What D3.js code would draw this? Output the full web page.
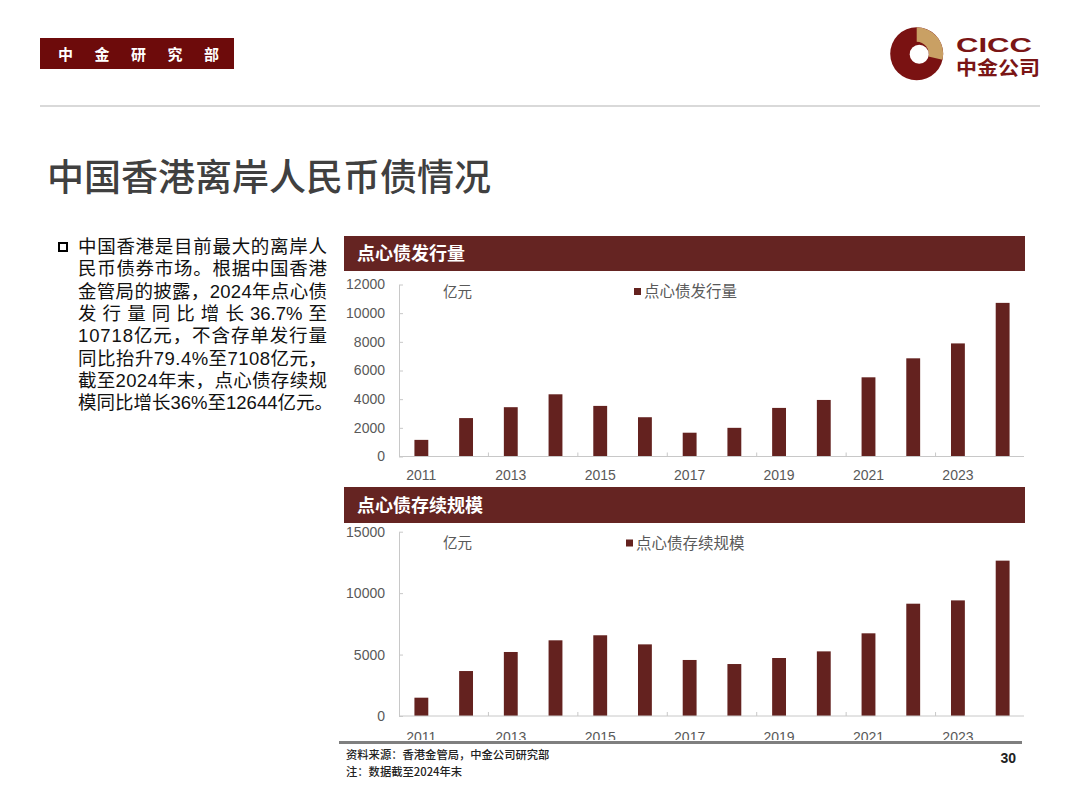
<!DOCTYPE html>
<html>
<head>
<meta charset="utf-8">
<script src="https://cdn.jsdelivr.net/npm/d3@7/dist/d3.min.js"></script>
<style>
  html, body { margin: 0; padding: 0; background: #fff; }
  svg { display: block; }
</style>
</head>
<body>
<svg id="chart" width="1080" height="810"></svg>
<script>
// ---------- data ----------
const categories = ["2011","2012","2013","2014","2015","2016","2017","2018","2019","2020","2021","2022","2023","2024"];
const issuance = [1160, 2680, 3440, 4340, 3530, 2740, 1660, 2000, 3390, 3945, 5525, 6850, 7890, 10718];
const outstanding = [1490, 3660, 5210, 6160, 6570, 5830, 4560, 4230, 4720, 5260, 6730, 9140, 9410, 12644];
const yTicks1 = [0, 2000, 4000, 6000, 8000, 10000, 12000];
const yTicks2 = [0, 5000, 10000, 15000];
const xTickLabels = ["2011","2013","2015","2017","2019","2021","2023"];
const bulletLines = [
  "中国香港是目前最大的离岸人",
  "民币债券市场。根据中国香港",
  "金管局的披露，2024年点心债",
  "发 行 量 同 比 增 长 36.7% 至",
  "10718亿元，不含存单发行量",
  "同比抬升79.4%至7108亿元，",
  "截至2024年末，点心债存续规",
  "模同比增长36%至12644亿元。"
];
const headerText = "中金研究部";
const pageTitle = "中国香港离岸人民币债情况";
const chart1Title = "点心债发行量";
const chart2Title = "点心债存续规模";
const unitLabel = "亿元";
const sourceText = "资料来源：香港金管局，中金公司研究部";
const noteText = "注：数据截至2024年末";
const pageNumber = "30";

// ---------- styles ----------
const BAR = "#64221f";
const HEAD = "#652422";
const AXIS = "#c8c8c8";
const LABEL = "#595959";
const NUMFONT = "'Liberation Sans', Arial, 'Noto Sans CJK SC', sans-serif";
const CJK = "'Noto Sans CJK SC', 'Liberation Sans', sans-serif";

const svg = d3.select("#chart");

// ---------- page header ----------
svg.append("rect").attr("x", 40).attr("y", 38).attr("width", 194).attr("height", 31).attr("fill", "#6d0b0b");
svg.append("text").attr("x", 58).attr("y", 60).attr("fill", "#fff")
  .attr("font-family", CJK).attr("font-weight", "bold").attr("font-size", 15)
  .attr("letter-spacing", 21.5).text(headerText);

svg.append("line").attr("x1", 40).attr("x2", 1040).attr("y1", 106).attr("y2", 106)
  .attr("stroke", "#d9d9d9").attr("stroke-width", 2);

svg.append("text").attr("x", 47).attr("y", 191).attr("fill", "#404040")
  .attr("font-family", CJK).attr("font-size", 37).attr("font-weight", 500).text(pageTitle);

// logo
const logo = svg.append("g").attr("transform", "translate(916.7,53.8)");
logo.append("circle").attr("r", 26.5).attr("fill", "#7a1212");
logo.append("path").attr("fill", "#c9a064")
  .attr("d", d3.arc()({innerRadius: 12, outerRadius: 26.5, startAngle: 0, endAngle: 1.8}));
logo.append("circle").attr("cx", 2.5).attr("cy", 0.5).attr("r", 9.5).attr("fill", "#fff");
svg.append("text").attr("x", 956).attr("y", 51.5).attr("fill", "#7a1515")
  .attr("font-family", NUMFONT).attr("font-weight", "bold").attr("font-size", 21)
  .attr("textLength", 76).attr("lengthAdjust", "spacingAndGlyphs").text("CICC");
svg.append("text").attr("x", 956).attr("y", 74.5).attr("fill", "#7a1515")
  .attr("font-family", NUMFONT).attr("font-weight", "bold").attr("font-size", 19.5)
  .attr("textLength", 84).attr("lengthAdjust", "spacingAndGlyphs").text("中金公司");

// ---------- bullet text ----------
svg.append("rect").attr("x", 59).attr("y", 243).attr("width", 8).attr("height", 8)
  .attr("fill", "none").attr("stroke", "#000").attr("stroke-width", 2);
const bt = svg.append("g").attr("font-family", NUMFONT).attr("font-size", 18.5).attr("fill", "#111");
const LINE_W = 249;
bulletLines.forEach((line, i) => {
  const t = bt.append("text").attr("x", 78).attr("y", 253 + i * 22.3).text(line);
  if (i === bulletLines.length - 1) return;
  const gaps = (line.match(/ /g) || []).length;
  if (gaps > 0) {
    const w = t.node().getComputedTextLength();
    t.attr("word-spacing", (LINE_W - w) / gaps);
  } else {
    t.attr("textLength", LINE_W).attr("lengthAdjust", "spacing");
  }
});

// ---------- chart builder ----------
const x = d3.scaleBand().domain(categories).range([399, 1025]).paddingInner(0.69).paddingOuter(0.345);

function drawChart(cfg) {
  const g = svg.append("g");
  // header bar
  g.append("rect").attr("x", 344).attr("y", cfg.headTop).attr("width", 681).attr("height", cfg.headH).attr("fill", HEAD);
  g.append("text").attr("x", 357).attr("y", cfg.headTop + cfg.headH / 2 + 6.5).attr("fill", "#fff")
    .attr("font-family", CJK).attr("font-weight", "bold").attr("font-size", 18).text(cfg.title);

  const y = d3.scaleLinear().domain([0, cfg.max]).range([cfg.y0, cfg.yTop]);

  // y axis
  const ya = g.append("g").attr("transform", "translate(399,0)")
    .call(d3.axisLeft(y).tickValues(cfg.ticks).tickSizeInner(-4).tickSizeOuter(0).tickPadding(14).tickFormat(d3.format("d")));
  ya.select(".domain").attr("stroke", AXIS);
  ya.selectAll(".tick line").attr("stroke", AXIS);
  ya.selectAll(".tick text").attr("fill", LABEL).attr("font-family", NUMFONT).attr("font-size", 14);

  // bars
  g.append("g").selectAll("rect").data(cfg.values).join("rect")
    .attr("x", (d, i) => x(categories[i]))
    .attr("width", x.bandwidth())
    .attr("y", d => y(d))
    .attr("height", d => y(0) - y(d))
    .attr("fill", BAR);

  // x axis line + boundary ticks
  const xg = g.append("g").attr("transform", `translate(0,${cfg.y0})`);
  xg.append("line").attr("x1", 399).attr("x2", 1024).attr("stroke", AXIS);
  const gap = x.step() - x.bandwidth();
  const boundaries = categories.filter((c, i) => i > 0 && i % 2 === 0);
  xg.selectAll(".bt").data(boundaries).join("line").attr("class", "bt")
    .attr("x1", c => x(c) - gap / 2).attr("x2", c => x(c) - gap / 2)
    .attr("y1", 0).attr("y2", -4).attr("stroke", AXIS);

  // x labels
  const labelG = g.append("g");
  if (cfg.clipBottom) {
    const id = "clipx" + cfg.title.length;
    svg.append("clipPath").attr("id", id).append("rect").attr("x", 340).attr("y", 0).attr("width", 700).attr("height", cfg.clipBottom);
    labelG.attr("clip-path", `url(#${id})`);
  }
  labelG.selectAll("text").data(xTickLabels).join("text")
    .attr("x", c => x(c) + x.bandwidth() / 2)
    .attr("y", cfg.y0 + cfg.labelDy)
    .attr("text-anchor", "middle").attr("fill", LABEL)
    .attr("font-family", NUMFONT).attr("font-size", 14).text(c => c);

  // unit label
  g.append("text").attr("x", 443).attr("y", cfg.legendY + 5).attr("fill", LABEL)
    .attr("font-family", CJK).attr("font-size", 14.5).text(unitLabel);
  // legend
  g.append("rect").attr("x", cfg.legendX).attr("y", cfg.legendY - 3.5).attr("width", 7).attr("height", 7).attr("fill", BAR);
  g.append("text").attr("x", cfg.legendX + 10).attr("y", cfg.legendY + 5.5).attr("fill", LABEL)
    .attr("font-family", CJK).attr("font-size", 15.5).text(cfg.title);
}

drawChart({ title: chart1Title, headTop: 236, headH: 35, values: issuance, max: 12000, ticks: yTicks1,
            y0: 456.5, yTop: 284.5, legendX: 634, legendY: 291.5, labelDy: 23.5 });
drawChart({ title: chart2Title, headTop: 487, headH: 36, values: outstanding, max: 15000, ticks: yTicks2,
            y0: 716, yTop: 531.7, legendX: 626, legendY: 543, labelDy: 25.5, clipBottom: 740 });

// ---------- footer ----------
svg.append("line").attr("x1", 339).attr("x2", 1022).attr("y1", 742.5).attr("y2", 742.5)
  .attr("stroke", "#7f7f7f").attr("stroke-width", 3);
svg.append("text").attr("x", 346).attr("y", 758.5).attr("fill", "#222")
  .attr("font-family", CJK).attr("font-weight", 500).attr("font-size", 11.3).text(sourceText);
svg.append("text").attr("x", 346).attr("y", 776).attr("fill", "#222")
  .attr("font-family", CJK).attr("font-weight", 500).attr("font-size", 11.3).text(noteText);
svg.append("text").attr("x", 1016).attr("y", 763).attr("text-anchor", "end").attr("fill", "#222")
  .attr("font-family", NUMFONT).attr("font-weight", "bold").attr("font-size", 14).text(pageNumber);
</script>
</body>
</html>
